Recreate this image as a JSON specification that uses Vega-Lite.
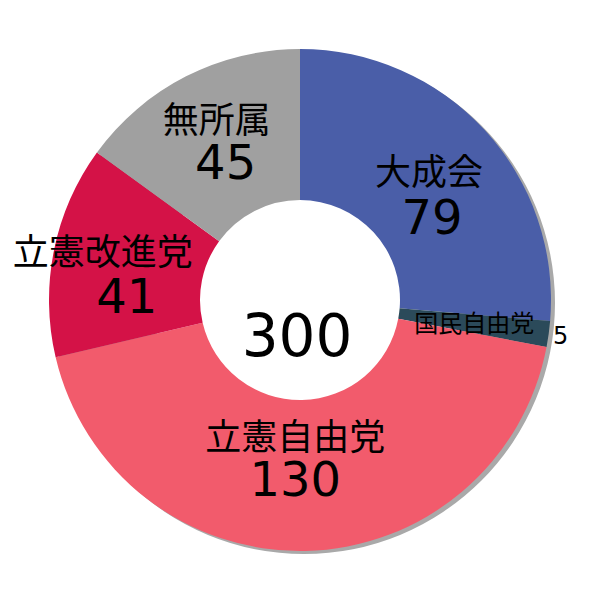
{
  "$schema": "https://vega.github.io/schema/vega-lite/v6.json",
  "autosize": {"type": "fit", "contains": "padding"},
  "width": 600,
  "height": 600,
  "padding": 0,
  "background": "white",
  "view": {"stroke": null},
  "data": {
    "values": [
      {"party": "大成会", "seats": 79, "ord": 1},
      {"party": "国民自由党", "seats": 5, "ord": 2},
      {"party": "立憲自由党", "seats": 130, "ord": 3},
      {"party": "立憲改進党", "seats": 41, "ord": 4},
      {"party": "無所属", "seats": 45, "ord": 5}
    ]
  },
  "encoding": {
    "theta": {"field": "seats", "type": "quantitative", "stack": true},
    "order": {"field": "ord", "type": "quantitative"}
  },
  "layer": [
    {
      "mark": {"type": "arc", "radius": 251, "radius2": 150, "xOffset": 4, "yOffset": 3, "color": "#a9a9a9"},
      "encoding": {"theta": {"aggregate": "sum", "field": "seats", "type": "quantitative"}, "order": null}
    },
    {
      "mark": {"type": "arc", "radius": 251, "radius2": 100},
      "encoding": {
        "color": {
          "field": "party",
          "type": "nominal",
          "legend": null,
          "scale": {
            "domain": ["大成会", "国民自由党", "立憲自由党", "立憲改進党", "無所属"],
            "range": ["#4a5ea8", "#2b4a5a", "#f25b6c", "#d41247", "#a0a0a0"]
          }
        }
      }
    },
    {
      "mark": {"type": "text", "radius": 167, "dx": 6, "dy": -13, "fontSize": 36, "font": "Noto Sans CJK JP", "color": "black"},
      "encoding": {"text": {"condition": {"test": "datum.party != '大成会'", "value": ""}, "field": "party"}}
    },
    {
      "mark": {"type": "text", "radius": 167, "dx": 9, "dy": 33, "fontSize": 48, "font": "DejaVu Sans", "color": "black"},
      "encoding": {"text": {"condition": {"test": "datum.party != '大成会'", "value": ""}, "field": "seats"}}
    },
    {
      "mark": {"type": "text", "radius": 176, "dy": 1, "fontSize": 24, "font": "Noto Sans CJK JP", "color": "black"},
      "encoding": {"text": {"condition": {"test": "datum.party != '国民自由党'", "value": ""}, "field": "party"}}
    },
    {
      "mark": {"type": "text", "radius": 263, "dy": 1, "fontSize": 24, "font": "DejaVu Sans", "color": "black"},
      "encoding": {"text": {"condition": {"test": "datum.party != '国民自由党'", "value": ""}, "field": "seats"}}
    },
    {
      "mark": {"type": "text", "radius": 159, "dx": -8, "dy": -20, "fontSize": 36, "font": "Noto Sans CJK JP", "color": "black"},
      "encoding": {"text": {"condition": {"test": "datum.party != '立憲自由党'", "value": ""}, "field": "party"}}
    },
    {
      "mark": {"type": "text", "radius": 159, "dx": -8, "dy": 23, "fontSize": 48, "font": "DejaVu Sans", "color": "black"},
      "encoding": {"text": {"condition": {"test": "datum.party != '立憲自由党'", "value": ""}, "field": "seats"}}
    },
    {
      "mark": {"type": "text", "radius": 187, "dx": -14, "dy": -9, "fontSize": 36, "font": "Noto Sans CJK JP", "color": "black"},
      "encoding": {"text": {"condition": {"test": "datum.party != '立憲改進党'", "value": ""}, "field": "party"}}
    },
    {
      "mark": {"type": "text", "radius": 187, "dx": 10, "dy": 36, "fontSize": 48, "font": "DejaVu Sans", "color": "black"},
      "encoding": {"text": {"condition": {"test": "datum.party != '立憲改進党'", "value": ""}, "field": "seats"}}
    },
    {
      "mark": {"type": "text", "radius": 177, "dx": -3, "dy": -20, "fontSize": 36, "font": "Noto Sans CJK JP", "color": "black"},
      "encoding": {"text": {"condition": {"test": "datum.party != '無所属'", "value": ""}, "field": "party"}}
    },
    {
      "mark": {"type": "text", "radius": 177, "dx": 6, "dy": 23, "fontSize": 48, "font": "DejaVu Sans", "color": "black"},
      "encoding": {"text": {"condition": {"test": "datum.party != '無所属'", "value": ""}, "field": "seats"}}
    },
    {
      "mark": {"type": "text", "fontSize": 58, "font": "DejaVu Sans", "color": "black", "dx": -3, "dy": 39},
      "encoding": {"theta": null, "order": null, "text": {"aggregate": "sum", "field": "seats", "type": "quantitative"}}
    }
  ]
}
